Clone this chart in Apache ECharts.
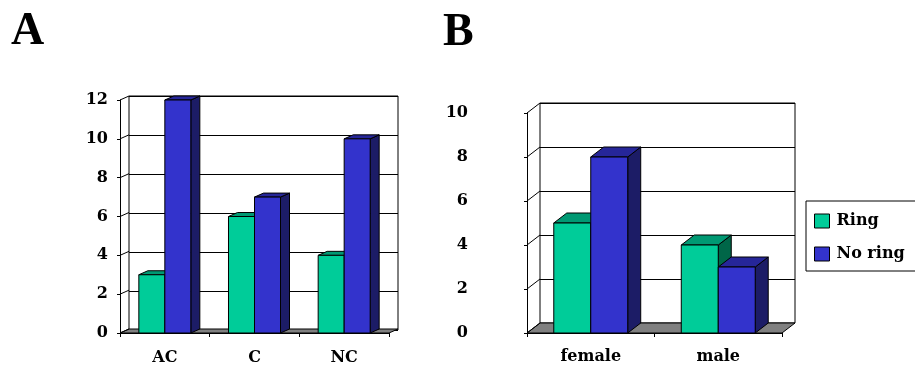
<!DOCTYPE html>
<html>
<head>
<meta charset="utf-8">
<script src="https://cdn.jsdelivr.net/npm/echarts@6/dist/echarts.min.js"></script>
<style>html,body{margin:0;padding:0;background:#fff;}#c{width:915px;height:366px;}</style>
</head>
<body>
<div id="c"></div>
<script>
// ---- data ----
const seriesNames = ['Ring', 'No ring'];
const categoriesA = ['AC', 'C', 'NC'];
const ringA = [3, 6, 4];
const noRingA = [12, 7, 10];
const yTicksA = [0, 2, 4, 6, 8, 10, 12];

const categoriesB = ['female', 'male'];
const ringB = [5, 4];
const noRingB = [8, 3];
const yTicksB = [0, 2, 4, 6, 8, 10];

const panelTitles = ['A', 'B'];

// ---- styles ----
const FONT = '"Liberation Serif", "DejaVu Serif", serif';
const LFONT = '"DejaVu Serif", "Liberation Serif", serif';
const COLORS = [
  { front: '#00CC99', top: '#009973', side: '#006648' },
  { front: '#3333CC', top: '#262699', side: '#1C1C66' }
];
const DEPTH = { A: [9, -4], B: [13, -10] };
const BAR_FRAC = 0.29;

function barRender(side, col, d) {
  return function (params, api) {
    const cat = api.value(0), val = api.value(1);
    const top = api.coord([cat, val]);
    const base = api.coord([cat, 0]);
    const bw = api.size([1, 0])[0] * BAR_FRAC;
    const x0 = side === 0 ? top[0] - bw : top[0];
    const x1 = x0 + bw;
    const yT = top[1], yB = base[1];
    const dx = d[0], dy = d[1];
    const st = { stroke: '#000', lineWidth: 1 };
    return {
      type: 'group',
      children: [
        { type: 'polygon', shape: { points: [[x1, yB], [x1 + dx, yB + dy], [x1 + dx, yT + dy], [x1, yT]] }, style: Object.assign({ fill: col.side }, st) },
        { type: 'polygon', shape: { points: [[x0, yT], [x1, yT], [x1 + dx, yT + dy], [x0 + dx, yT + dy]] }, style: Object.assign({ fill: col.top }, st) },
        { type: 'rect', shape: { x: x0, y: yT, width: bw, height: yB - yT }, style: Object.assign({ fill: col.front }, st) }
      ]
    };
  };
}

function frameRender(d) {
  return function (params, api) {
    const cs = params.coordSys;
    const v = api.value(1);
    const p = api.coord([0, v]);
    const y = p[1];
    const x = cs.x;
    const dx = d[0], dy = d[1];
    const children = [
      { type: 'line', shape: { x1: x, y1: y, x2: x + dx, y2: y + dy }, style: { stroke: '#000', lineWidth: 1 } }
    ];
    if (v === 0) {
      const yb = cs.y + cs.height;
      children.unshift({
        type: 'polygon',
        shape: { points: [[x, yb], [x + cs.width, yb], [x + cs.width + dx, yb + dy], [x + dx, yb + dy]] },
        style: { fill: '#808080', stroke: '#000', lineWidth: 1 }
      });
    }
    return { type: 'group', children: children };
  };
}

function frontY(max, margin) {
  return {
    type: 'value', min: 0, max: max, interval: 2,
    axisLine: { show: true, lineStyle: { color: '#000', width: 1 } },
    axisTick: { show: true, length: 3, lineStyle: { color: '#000' } },
    splitLine: { show: false },
    axisLabel: { margin: margin, color: '#000', fontFamily: LFONT, fontWeight: 'bold', fontSize: 16 }
  };
}
function backY(max) {
  return {
    type: 'value', min: 0, max: max, interval: 2,
    axisLine: { show: false }, axisTick: { show: false }, axisLabel: { show: false },
    splitLine: { show: true, lineStyle: { color: '#000', width: 1 } }
  };
}
function frontX(cats, margin, fs) {
  return {
    type: 'category', data: cats, boundaryGap: true,
    axisLine: { show: true, lineStyle: { color: '#000', width: 1 } },
    axisTick: { show: true, length: 4, lineStyle: { color: '#000' } },
    axisLabel: { margin: margin, color: '#000', fontFamily: LFONT, fontWeight: 'bold', fontSize: fs }
  };
}
function backX(cats) {
  return { type: 'category', data: cats, show: false };
}

const toPairs = arr => arr.map((v, i) => [i, v]);
const tickPairs = arr => arr.map(v => [0, v]);

const chart = echarts.init(document.getElementById('c'), null, { renderer: 'canvas' });

const option = {
  animation: false,
  backgroundColor: '#fff',
  title: [
    { text: panelTitles[0], left: 11, top: 9, padding: 0, textStyle: { fontFamily: FONT, fontWeight: 'bold', fontSize: 46, color: '#000' } },
    { text: panelTitles[1], left: 443, top: 10, padding: 0, textStyle: { fontFamily: FONT, fontWeight: 'bold', fontSize: 46, color: '#000' } }
  ],
  legend: {
    data: seriesNames,
    orient: 'vertical',
    left: 806, top: 201,
    padding: [12, 40, 9, 8],
    itemWidth: 15, itemHeight: 14, itemGap: 17,
    icon: 'rect',
    borderColor: '#000', borderWidth: 1,
    backgroundColor: '#fff',
    itemStyle: { borderColor: '#000', borderWidth: 1 },
    textStyle: { fontFamily: LFONT, fontWeight: 'bold', fontSize: 16, color: '#000', padding: [0, 0, 0, 2] }
  },
  grid: [
    { left: 120, top: 100, width: 269, height: 234, show: false },
    { left: 129, top: 96, width: 269, height: 234, show: true, borderColor: '#000', borderWidth: 1, backgroundColor: '#fff' },
    { left: 527, top: 113, width: 255, height: 220, show: false },
    { left: 540, top: 103, width: 255, height: 220, show: true, borderColor: '#000', borderWidth: 1, backgroundColor: '#fff' }
  ],
  xAxis: [
    Object.assign(frontX(categoriesA, 17, 16), { gridIndex: 0 }),
    Object.assign(backX(categoriesA), { gridIndex: 1 }),
    Object.assign(frontX(categoriesB, 16, 16), { gridIndex: 2 }),
    Object.assign(backX(categoriesB), { gridIndex: 3 })
  ],
  yAxis: [
    Object.assign(frontY(12, 12), { gridIndex: 0 }),
    Object.assign(backY(12), { gridIndex: 1 }),
    Object.assign(frontY(10, 59), { gridIndex: 2 }),
    Object.assign(backY(10), { gridIndex: 3 })
  ],
  series: [
    { type: 'custom', name: 'frameA', xAxisIndex: 0, yAxisIndex: 0, z: 1, silent: true, data: tickPairs(yTicksA), renderItem: frameRender(DEPTH.A) },
    { type: 'custom', name: seriesNames[0], xAxisIndex: 0, yAxisIndex: 0, z: 2, itemStyle: { color: COLORS[0].front }, data: toPairs(ringA), renderItem: barRender(0, COLORS[0], DEPTH.A) },
    { type: 'custom', name: seriesNames[1], xAxisIndex: 0, yAxisIndex: 0, z: 3, itemStyle: { color: COLORS[1].front }, data: toPairs(noRingA), renderItem: barRender(1, COLORS[1], DEPTH.A) },
    { type: 'custom', name: 'frameB', xAxisIndex: 2, yAxisIndex: 2, z: 1, silent: true, data: tickPairs(yTicksB), renderItem: frameRender(DEPTH.B) },
    { type: 'custom', name: seriesNames[0], xAxisIndex: 2, yAxisIndex: 2, z: 2, itemStyle: { color: COLORS[0].front }, data: toPairs(ringB), renderItem: barRender(0, COLORS[0], DEPTH.B) },
    { type: 'custom', name: seriesNames[1], xAxisIndex: 2, yAxisIndex: 2, z: 3, itemStyle: { color: COLORS[1].front }, data: toPairs(noRingB), renderItem: barRender(1, COLORS[1], DEPTH.B) }
  ]
};
chart.setOption(option);
</script>
</body>
</html>
